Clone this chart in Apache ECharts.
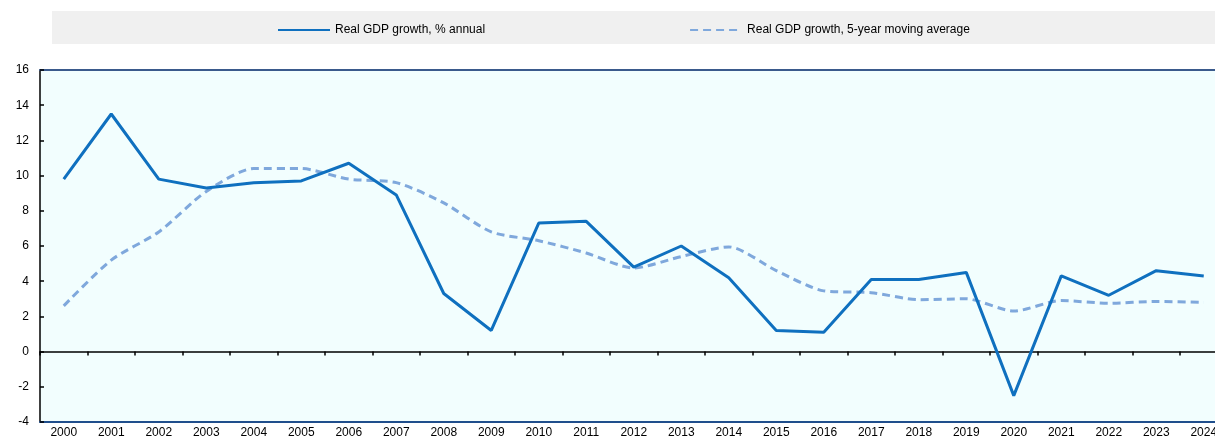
<!DOCTYPE html>
<html>
<head>
<meta charset="utf-8">
<script src="https://cdn.jsdelivr.net/npm/echarts@6/dist/echarts.min.js"></script>
<style>
  html, body { margin: 0; padding: 0; background: #fff; overflow: hidden; }
  #wrap { width: 1215px; height: 439px; overflow: hidden; position: relative; }
  #chart { width: 1240px; height: 439px; }
</style>
</head>
<body>
<div id="wrap"><div id="chart"></div></div>
<script>
const years = ["2000", "2001", "2002", "2003", "2004", "2005", "2006", "2007", "2008", "2009",
  "2010", "2011", "2012", "2013", "2014", "2015", "2016", "2017", "2018", "2019",
  "2020", "2021", "2022", "2023", "2024"];
const gdpAnnual = [9.8, 13.5, 9.8, 9.3, 9.6, 9.7, 10.7, 8.9, 3.3, 1.2,
  7.3, 7.4, 4.8, 6.0, 4.2, 1.2, 1.1, 4.1, 4.1, 4.5,
  -2.5, 4.3, 3.2, 4.6, 4.3];
const gdpAvg5 = [2.6, 5.2, 6.8, 9.1, 10.4, 10.4, 9.8, 9.6, 8.45, 6.8,
  6.3, 5.6, 4.75, 5.4, 5.95, 4.6, 3.45, 3.35, 2.95, 3.0,
  2.3, 2.9, 2.75, 2.85, 2.8];
const seriesNames = ["Real GDP growth, % annual", "Real GDP growth, 5-year moving average"];

const font = "Liberation Sans, Arial, sans-serif";
const chart = echarts.init(document.getElementById("chart"));

chart.setOption({
  animation: false,
  textStyle: { fontFamily: font },
  graphic: [
    { type: "rect", left: 52, top: 11, shape: { width: 1190, height: 33 }, style: { fill: "#f0f0f0" }, silent: true }
  ],
  legend: {
    left: 272,
    top: 19,
    itemWidth: 52,
    itemHeight: 14,
    itemGap: 204,
    itemStyle: { opacity: 0 },
    textStyle: { fontFamily: font, fontSize: 12, color: "#000" },
    data: seriesNames
  },
  grid: {
    left: 40,
    top: 70,
    right: 12.5,
    height: 352,
    outerBoundsMode: "none",
    containLabel: false,
    show: true,
    backgroundColor: "#f2fefe",
    borderWidth: 0
  },
  xAxis: [
    {
      type: "category",
      data: years,
      position: "bottom",
      axisLine: { onZero: false, lineStyle: { color: "#1f4e8c", width: 2 } },
      axisTick: { show: false },
      axisLabel: { color: "#000", fontSize: 12, fontFamily: font, margin: 5, interval: 0 }
    },
    {
      type: "category",
      data: years,
      gridIndex: 0,
      axisLine: { onZero: true, lineStyle: { color: "#000", width: 1.5 } },
      axisTick: { show: true, inside: true, length: 4, lineStyle: { color: "#000", width: 1.5 } },
      axisLabel: { show: false }
    },
    {
      type: "category",
      data: years,
      position: "top",
      axisLine: { onZero: false, lineStyle: { color: "#3a5a8c", width: 2 } },
      axisTick: { show: false },
      axisLabel: { show: false }
    }
  ],
  yAxis: {
    type: "value",
    min: -4,
    max: 16,
    interval: 2,
    axisLine: { show: true, lineStyle: { color: "#000", width: 1.5 } },
    axisTick: { show: true, inside: true, length: 4, lineStyle: { color: "#000", width: 1.5 } },
    axisLabel: { color: "#000", fontSize: 12, fontFamily: font, margin: 11 },
    splitLine: { show: false }
  },
  series: [
    {
      name: seriesNames[0],
      type: "line",
      xAxisIndex: 1,
      data: gdpAnnual,
      symbol: "none",
      z: 3,
      lineStyle: { color: "#0f70bf", width: 3 },
      itemStyle: { color: "#0f70bf" }
    },
    {
      name: seriesNames[1],
      type: "line",
      xAxisIndex: 1,
      data: gdpAvg5,
      symbol: "none",
      smooth: 0.25,
      z: 2,
      lineStyle: { color: "#7fa8dc", width: 3, type: [8, 5] },
      itemStyle: { color: "#7fa8dc" }
    }
  ]
});
window.addEventListener("resize", () => chart.resize(), { passive: true });
</script>
</body>
</html>
